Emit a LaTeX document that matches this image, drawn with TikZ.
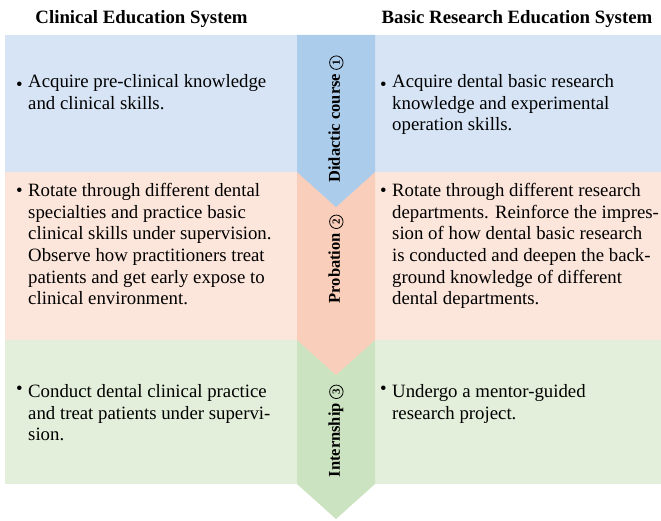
\documentclass[tikz,border=0pt]{standalone}
\usepackage{fontspec}
\setmainfont{Liberation Serif}
\usepackage{graphicx}
\definecolor{bandblue}{RGB}{214,228,245}
\definecolor{colblue}{RGB}{172,204,235}
\definecolor{bandpink}{RGB}{252,229,218}
\definecolor{colpink}{RGB}{249,206,186}
\definecolor{bandgreen}{RGB}{227,239,218}
\definecolor{colgreen}{RGB}{204,227,193}
\def\headnode{\node[anchor=base,inner sep=0pt,font=\fontsize{18.8}{22}\selectfont\bfseries]}
\def\bodynode{\node[anchor=north west,align=left,inner sep=0pt,font=\fontsize{18.8}{21.6}\selectfont]}
\def\stepnode{\node[rotate=90,inner sep=0pt,font=\fontsize{16.5}{18}\selectfont\bfseries]}
\newcommand\bul[1]{\llap{\smash{\raisebox{#1}{\textbullet}}\kern5.5pt}}
\newcommand\stepno[1]{\tikz[baseline=(n.base)]\node[draw,circle,line width=0.8pt,inner sep=0pt,minimum size=13.5pt,font=\fontsize{11}{11}\selectfont\bfseries] (n) {#1};}

\begin{document}
\begin{tikzpicture}[x=1pt,y=-1pt]
\useasboundingbox (0,0) rectangle (661,521);
\fill[white] (0,0) rectangle (661,521);
\fill[bandblue] (5,35) rectangle (661,172);
\fill[bandpink] (5,172) rectangle (661,340);
\fill[bandgreen] (5,340) rectangle (661,484);
\fill[colgreen] (297,340) -- (375,340) -- (375,484) -- (336,519) -- (297,484) -- cycle;
\fill[colpink] (297,172) -- (375,172) -- (375,340) -- (336,375) -- (297,340) -- cycle;
\fill[colblue] (297,35) -- (375,35) -- (375,172) -- (336,207) -- (297,172) -- cycle;

\headnode (clinhead) at (141.5,24) {Clinical Education System};
\headnode (reshead) at (517,24) {Basic Research Education System};

\stepnode (didactic) at (336,119) {Didactic course \stepno{1}};
\stepnode (probation) at (336,259) {Probation \stepno{2}};
\stepnode (internship) at (336,431) {Internship \stepno{3}};

\bodynode (clin1) at (28,74.2) {\bul{-3pt}Acquire pre-clinical knowledge\\and clinical skills.};
\bodynode (res1) at (392,74.2) {\bul{-3pt}Acquire dental basic research\\knowledge and experimental\\operation skills.};
\bodynode (clin2) at (28,183.2) {\bul{0pt}Rotate through different dental\\specialties and practice basic\\clinical skills under supervision.\\Observe how practitioners treat\\patients and get early expose to\\clinical environment.};
\bodynode (res2) at (392,183.2) {\bul{0pt}Rotate through different research\\departments. Reinforce the impres-\\sion of how dental basic research\\is conducted and deepen the back-\\ground knowledge of different\\dental departments.};
\bodynode (clin3) at (28,384.2) {\bul{3pt}Conduct dental clinical practice\\and treat patients under supervi-\\sion.};
\bodynode (res3) at (392,384.2) {\bul{3pt}Undergo a mentor-guided\\research project.};
\end{tikzpicture}
\end{document}
